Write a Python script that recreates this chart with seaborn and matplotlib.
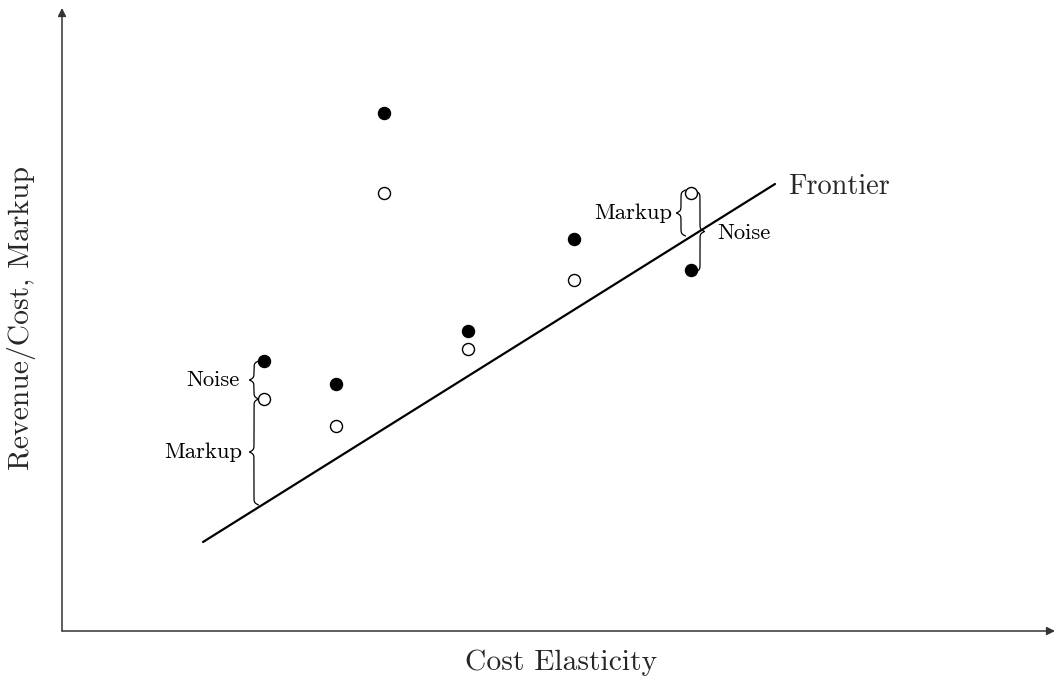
import numpy as np
import pandas as pd
import matplotlib
matplotlib.use("Agg")
import matplotlib.pyplot as plt
import seaborn as sns

# ---- data (arbitrary units) ----
firm_x = [2.02, 2.74, 3.22, 4.06, 5.12, 6.29]
observed_y = [2.70, 2.47, 5.18, 3.00, 3.92, 3.61]   # filled circles
markup_y = [2.32, 2.05, 4.38, 2.82, 3.51, 4.38]     # open circles
frontier_x = [1.41, 7.13]
frontier_y = [0.89, 4.47]

sns.set_style("white")
plt.rcParams["font.family"] = ["cmr10", "DejaVu Serif"]
plt.rcParams["mathtext.fontset"] = "cm"

fig = plt.figure(figsize=(10.56, 6.79), dpi=100)
ax = fig.add_axes([0, 0, 1, 1])
ax.set_xlim(-0.62, 9.94)
ax.set_ylim(-0.48, 6.31)
ax.axis("off")

df = pd.DataFrame({"x": firm_x, "obs": observed_y, "mk": markup_y})
fr = pd.DataFrame({"x": frontier_x, "y": frontier_y})

sns.lineplot(data=fr, x="x", y="y", ax=ax, color="black", lw=1.6)
sns.scatterplot(data=df, x="x", y="obs", ax=ax, color="black", edgecolor="black",
                s=75, linewidth=1, zorder=3)
sns.scatterplot(data=df, x="x", y="mk", ax=ax, color="white", edgecolor="black",
                s=75, linewidth=1, zorder=3)

# axes with arrows
ax.annotate("", xy=(9.93, 0), xytext=(0, 0),
            arrowprops=dict(arrowstyle="-|>", color="#333333", lw=1.1,
                            mutation_scale=12, shrinkA=0, shrinkB=0))
ax.annotate("", xy=(0, 6.23), xytext=(0, 0),
            arrowprops=dict(arrowstyle="-|>", color="#333333", lw=1.1,
                            mutation_scale=12, shrinkA=0, shrinkB=0))

ax.text(4.99, -0.32, "Cost Elasticity", ha="center", va="center", fontsize=21.3)
ax.text(-0.40, 3.13, "Revenue/Cost, Markup", ha="center", va="center",
        rotation=90, fontsize=21.3)
ax.text(7.26, 4.44, "Frontier", ha="left", va="center", fontsize=20.4)


def brace(xb, y0, y1, d, w=0.09, beta=90.0):
    n = 401
    t = np.linspace(min(y0, y1), max(y0, y1), n)
    half = t[: n // 2 + 1]
    f = 1 / (1 + np.exp(-beta * (half - half[0]))) + 1 / (1 + np.exp(-beta * (half - half[-1])))
    f = np.concatenate((f, f[-2::-1]))
    xs = xb + d * (f - 1) * w
    ax.plot(xs, t, color="black", lw=0.9)


# left firm braces
brace(1.92, 2.70, 2.32, -1)
brace(1.92, 2.32, 1.26, -1)
ax.text(1.78, 2.51, "Noise", ha="right", va="center", fontsize=16.3, color="black")
ax.text(1.80, 1.79, "Markup", ha="right", va="center", fontsize=16.3, color="black")

# right firm braces
brace(6.19, 4.41, 3.95, -1)
brace(6.38, 4.40, 3.59, 1)
ax.text(6.10, 4.18, "Markup", ha="right", va="center", fontsize=16.3, color="black")
ax.text(6.55, 3.98, "Noise", ha="left", va="center", fontsize=16.3, color="black")

fig.savefig("out.png", dpi=100)
